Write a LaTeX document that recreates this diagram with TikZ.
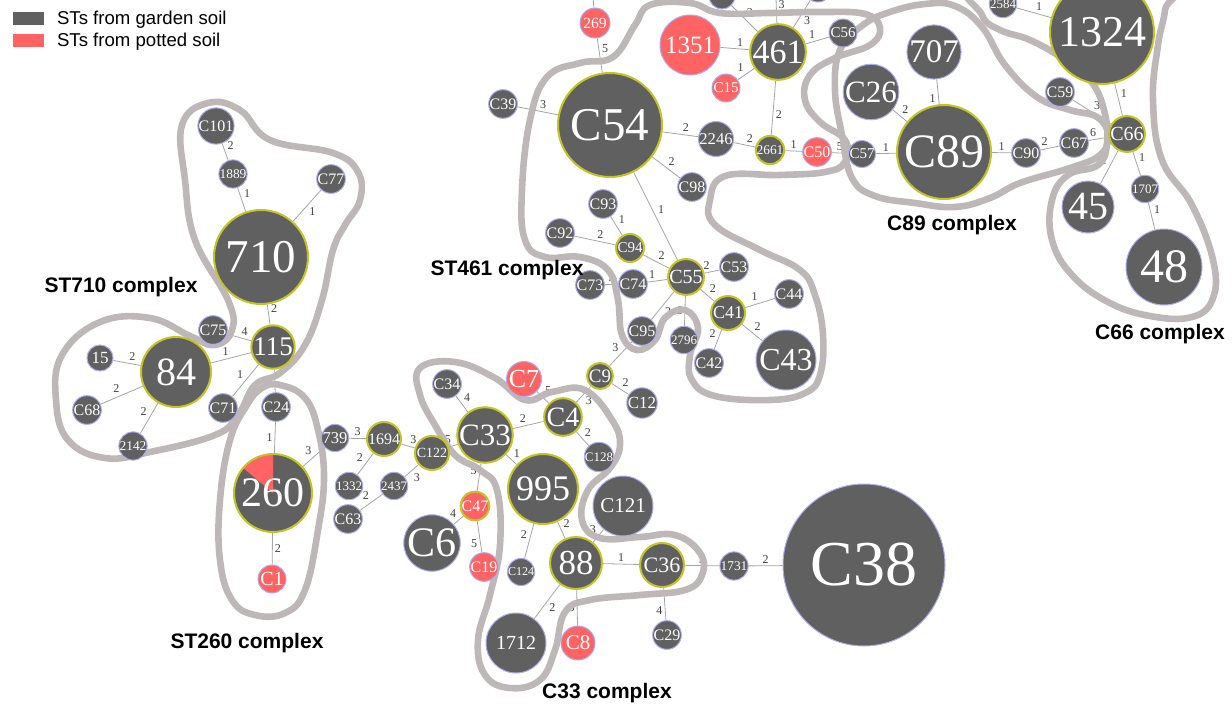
\documentclass[tikz,border=0pt]{standalone}
\usepackage{fontspec}
\setmainfont{Liberation Serif}
\setsansfont{Liberation Sans}
\usetikzlibrary{backgrounds}
\definecolor{gardengray}{RGB}{96,96,96}
\definecolor{pottedred}{RGB}{255,99,99}
\definecolor{rimyellow}{RGB}{196,196,40}
\definecolor{rimblue}{RGB}{172,172,238}
\definecolor{hullgray}{RGB}{189,184,183}
\definecolor{edgegray}{RGB}{165,165,165}
\begin{document}
\begin{tikzpicture}[x=.5pt,y=-.5pt,
  garden/.style={circle,inner sep=0pt,fill=gardengray,draw=rimblue,line width=0.5pt,text=white,minimum size=#1pt},
  potted/.style={garden=#1,fill=pottedred},
  founder/.style={draw=rimyellow,line width=1pt},
  fs/.style={font=\fontsize{#1}{#1}\selectfont},
  lnk/.style={draw=edgegray,line width=0.4pt},
  elab/.style={font=\fontsize{6}{6}\selectfont,text=black!75,inner sep=1pt,auto},
  hull/.style={draw=hullgray,line width=3.3pt},
  cplx/.style={font=\sffamily\bfseries\fontsize{10.5}{12}\selectfont},
  legkey/.style={inner sep=0pt,minimum width=15.5pt,minimum height=6.5pt},
  legtxt/.style={font=\sffamily\fontsize{9.3}{11}\selectfont,anchor=base west}]
\path[use as bounding box] (0,0) rectangle (1232,707);
% legend
\node[legkey,fill=gardengray] (keyG) at (28.5,18) {};
\node[legtxt] (txtG) at (50,24) {STs from garden soil};
\node[legkey,fill=pottedred] (keyP) at (28.5,40) {};
\node[legtxt] (txtP) at (50,46) {STs from potted soil};
% ST461 complex
\node[potted=15,fs=7.8] (n269) at (595,23) {269};
\node[potted=30,fs=12.5] (n1351) at (690,45) {1351};
\node[garden=27,founder,fs=17] (n461) at (778,52) {461};
\node[potted=14,fs=7.5] (nC15) at (726,88) {C15};
\node[garden=14,fs=7.5] (nC56) at (843,33) {C56};
\node[garden=13] (nTopA) at (722,-4) {};
\node[garden=13] (nTopB) at (775,-28) {};
\node[garden=14] (nTopC) at (818,-12) {};
\coordinate (top269) at (591,-30);
\node[garden=13,fs=8] (nC39) at (503,104) {C39};
\node[garden=52,founder,fs=23.5] (nC54) at (610,125) {C54};
\node[garden=17,fs=8.3] (n2246) at (716,139) {2246};
\node[garden=14,founder,fs=6.7] (n2661) at (770,150) {2661};
\node[potted=14,fs=8] (nC50) at (817,152) {C50};
\node[garden=13,fs=8] (nC98) at (692,187) {C98};
\node[garden=13,fs=8] (nC93) at (603,204) {C93};
\node[garden=13,fs=8] (nC92) at (560,233) {C92};
\node[garden=14,founder,fs=7.5] (nC94) at (630,248) {C94};
\node[garden=17,founder,fs=10] (nC55) at (686,277) {C55};
\node[garden=13,fs=8] (nC53) at (734,267) {C53};
\node[garden=13,fs=8] (nC74) at (633,284) {C74};
\node[garden=13,fs=8] (nC73) at (590,285) {C73};
\node[garden=17,founder,fs=9] (nC41) at (728,313) {C41};
\node[garden=13,fs=8] (nC44) at (789,294) {C44};
\node[garden=30,fs=16] (nC43) at (786,360) {C43};
\node[garden=13,fs=8] (nC95) at (642,331) {C95};
\node[garden=13,fs=6.5] (n2796) at (684,340) {2796};
\node[garden=13,fs=8] (nC42) at (709,363) {C42};
\node[garden=13,founder,fs=9.5] (nC9) at (600,376) {C9};
\node[garden=15,fs=8.5] (nC12) at (642,403) {C12};
\node[potted=17,fs=13] (nC7) at (524,379) {C7};
% C89 complex
\node[garden=13,fs=7.5] (nC57) at (862,154) {C57};
\node[garden=26,fs=15.5] (nC26) at (871,92) {C26};
\node[garden=27,fs=16.5] (n707) at (934,52) {707};
\node[garden=47,founder,fs=24] (nC89) at (944,152) {C89};
\node[garden=13,fs=8] (nC90) at (1026,153) {C90};
\node[garden=13,fs=8] (nC67) at (1074,143) {C67};
% C66 complex
\node[garden=13,fs=8] (nC59) at (1060,92) {C59};
\node[garden=52,founder,fs=22] (n1324) at (1102,32) {1324};
\node[garden=13,fs=6.5] (n2584) at (1003,4) {2584};
\node[garden=17,founder,fs=10] (nC66) at (1127,134) {C66};
\node[garden=13,fs=6.5] (n1707) at (1145,189) {1707};
\node[garden=26,fs=20] (n45) at (1088,207) {45};
\node[garden=38,fs=24] (n48) at (1164,267) {48};
% ST710 complex
\node[garden=13,fs=8] (nC101) at (216,126) {C101};
\node[garden=13,fs=6.7] (n1889) at (233,174) {1889};
\node[garden=13,fs=8] (nC77) at (331,179) {C77};
\node[garden=47,founder,fs=23.5] (n710) at (261,257) {710};
\node[garden=13,fs=8] (nC75) at (213,330) {C75};
\node[garden=21,founder,fs=13.5] (n115) at (273,347) {115};
\node[garden=35,founder,fs=20] (n84) at (176,372) {84};
\node[garden=13,fs=8.5] (n15) at (100,358) {15};
\node[garden=13,fs=8] (nC68) at (87,410) {C68};
\node[garden=13,fs=6.7] (n2142) at (133,446) {2142};
\node[garden=13,fs=8] (nC71) at (223,408) {C71};
% ST260 complex
\node[garden=14,fs=8] (nC24) at (276,407) {C24};
\fill[gardengray] (273,493) circle[radius=19.5pt];
\fill[pottedred] (273,493) -- ++(90:19.5pt) arc[start angle=90,end angle=140,radius=19.5pt] -- cycle;
\node[garden=39,founder,fs=21,fill=none] (n260) at (273,493) {260};
\node[potted=14,fs=10] (nC1) at (272,579) {C1};
\node[garden=13,fs=8.3] (n739) at (335,438) {739};
\node[garden=17,founder,fs=8] (n1694) at (384,439) {1694};
\node[garden=13,fs=6.5] (n1332) at (349,486) {1332};
\node[garden=13,fs=6.5] (n2437) at (394,486) {2437};
\node[garden=13,fs=8] (nC63) at (348,519) {C63};
\node[garden=17,founder,fs=7] (nC122) at (432,453) {C122};
% C33 complex
\node[garden=13,fs=8] (nC34) at (447,384) {C34};
\node[garden=26,founder,fs=15.5] (nC33) at (485,435) {C33};
\node[garden=18,founder,fs=14] (nC4) at (563,417) {C4};
\node[garden=13,fs=6.5] (nC128) at (599,457) {C128};
\node[potted=13,founder,fs=8] (nC47) at (475,506) {C47};
\node[garden=26,fs=21] (nC6) at (432,543) {C6};
\node[potted=13,fs=8] (nC19) at (484,567) {C19};
\node[garden=35,founder,fs=18] (n995) at (543,489) {995};
\node[garden=30,fs=10.5] (nC121) at (623,506) {C121};
\node[garden=13,fs=6] (nC124) at (521,572) {C124};
\node[garden=26,founder,fs=17.5] (n88) at (576,563) {88};
\node[garden=30,fs=10] (n1712) at (516,643) {1712};
\node[potted=17,fs=10.5] (nC8) at (578,643) {C8};
\node[garden=22,founder,fs=11] (nC36) at (662,565) {C36};
\node[garden=13,fs=8] (nC29) at (667,635) {C29};
\node[garden=13,fs=6.7] (n1731) at (734,566) {1731};
\node[garden=81,fs=32] (nC38) at (864,565) {C38};
% complex names
\node[cplx] (lab710) at (121,287) {ST710 complex};
\node[cplx] (lab461) at (507,270) {ST461 complex};
\node[cplx] (lab89) at (952,225) {C89 complex};
\node[cplx] (lab66) at (1160,334) {C66 complex};
\node[cplx] (lab260) at (247,643) {ST260 complex};
\node[cplx] (lab33) at (607,693) {C33 complex};
\begin{pgfonlayer}{background}
% links
\draw[lnk] (n269) -- (top269);
\draw[lnk] (n269) -- node[elab]{5} (nC54);
\draw[lnk] (nTopA) -- node[elab]{3} (n461);
\draw[lnk] (nTopB) -- node[elab]{3} (n461);
\draw[lnk] (nTopC) -- node[elab]{3} (n461);
\draw[lnk] (n1351) -- node[elab]{1} (n461);
\draw[lnk] (nC15) -- node[elab]{1} (n461);
\draw[lnk] (n461) -- node[elab]{1} (nC56);
\draw[lnk] (n461) -- node[elab]{2} (n2661);
\draw[lnk] (nC39) -- node[elab]{3} (nC54);
\draw[lnk] (nC54) -- node[elab]{2} (n2246);
\draw[lnk] (n2246) -- node[elab]{2} (n2661);
\draw[lnk] (n2661) -- node[elab]{1} (nC50);
\draw[lnk] (nC50) -- node[elab]{5} (nC57);
\draw[lnk] (nC54) -- node[elab]{2} (nC98);
\draw[lnk] (nC54) -- node[elab]{1} (nC55);
\draw[lnk] (nC57) -- node[elab]{1} (nC89);
\draw[lnk] (nC26) -- node[elab]{2} (nC89);
\draw[lnk] (n707) -- node[elab,swap]{1} (nC89);
\draw[lnk] (nC89) -- node[elab]{1} (nC90);
\draw[lnk] (nC90) -- node[elab]{2} (nC67);
\draw[lnk] (nC67) -- node[elab]{6} (nC66);
\draw[lnk] (nC59) -- node[elab]{3} (nC66);
\draw[lnk] (n1324) -- node[elab]{1} (nC66);
\draw[lnk] (n2584) -- node[elab]{1} (n1324);
\draw[lnk] (nC66) -- node[elab,swap]{1} (n45);
\draw[lnk] (nC66) -- node[elab]{1} (n1707);
\draw[lnk] (n1707) -- node[elab]{1} (n48);
\draw[lnk] (nC93) -- node[elab]{1} (nC94);
\draw[lnk] (nC92) -- node[elab]{2} (nC94);
\draw[lnk] (nC94) -- node[elab]{2} (nC55);
\draw[lnk] (nC73) -- node[elab]{3} (nC74);
\draw[lnk] (nC74) -- node[elab]{1} (nC55);
\draw[lnk] (nC55) -- node[elab]{2} (nC53);
\draw[lnk] (nC55) -- node[elab]{2} (nC41);
\draw[lnk] (nC55) -- node[elab]{2} (nC95);
\draw[lnk] (nC55) -- node[elab,swap]{6} (n2796);
\draw[lnk] (nC41) -- node[elab]{1} (nC44);
\draw[lnk] (nC41) -- node[elab]{2} (nC43);
\draw[lnk] (nC41) -- node[elab,swap]{2} (nC42);
\draw[lnk] (nC95) -- node[elab,swap]{3} (nC9);
\draw[lnk] (nC9) -- node[elab]{2} (nC12);
\draw[lnk] (nC9) -- node[elab]{3} (nC4);
\draw[lnk] (nC7) -- node[elab]{5} (nC4);
\draw[lnk] (nC101) -- node[elab]{2} (n1889);
\draw[lnk] (n1889) -- node[elab]{1} (n710);
\draw[lnk] (nC77) -- node[elab]{1} (n710);
\draw[lnk] (n710) -- node[elab]{2} (n115);
\draw[lnk] (nC75) -- node[elab]{4} (n115);
\draw[lnk] (n84) -- node[elab]{1} (n115);
\draw[lnk] (nC71) -- node[elab]{1} (n115);
\draw[lnk] (n15) -- node[elab]{2} (n84);
\draw[lnk] (nC68) -- node[elab]{2} (n84);
\draw[lnk] (n2142) -- node[elab]{2} (n84);
\draw[lnk] (n115) -- node[elab,swap]{5} (nC24);
\draw[lnk] (nC24) -- node[elab,swap]{1} (n260);
\draw[lnk] (n260) -- node[elab]{3} (n739);
\draw[lnk] (n260) -- node[elab]{2} (nC1);
\draw[lnk] (n739) -- node[elab]{3} (n1694);
\draw[lnk] (n1694) -- node[elab,swap]{2} (n1332);
\draw[lnk] (n1694) -- node[elab]{3} (nC122);
\draw[lnk] (nC122) -- node[elab]{3} (n2437);
\draw[lnk] (n2437) -- node[elab,swap]{2} (nC63);
\draw[lnk] (nC122) -- node[elab]{5} (nC33);
\draw[lnk] (nC34) -- node[elab]{4} (nC33);
\draw[lnk] (nC33) -- node[elab]{2} (nC4);
\draw[lnk] (nC33) -- node[elab]{1} (n995);
\draw[lnk] (nC33) -- node[elab,swap]{5} (nC47);
\draw[lnk] (nC47) -- node[elab,swap]{4} (nC6);
\draw[lnk] (nC47) -- node[elab,swap]{5} (nC19);
\draw[lnk] (nC4) -- node[elab]{2} (nC128);
\draw[lnk] (n995) -- node[elab]{2} (n88);
\draw[lnk] (n995) -- node[elab,swap]{2} (nC124);
\draw[lnk] (n88) -- node[elab]{3} (nC121);
\draw[lnk] (n88) -- node[elab]{1} (nC36);
\draw[lnk] (n88) -- node[elab]{2} (n1712);
\draw[lnk] (n88) -- node[elab,swap]{3} (nC8);
\draw[lnk] (nC36) -- node[elab]{3} (n1731);
\draw[lnk] (nC36) -- node[elab,swap]{4} (nC29);
\draw[lnk] (n1731) -- node[elab]{2} (nC38);
% complex outlines
\draw[hull] plot[smooth cycle,tension=0.7] coordinates {(208,103) (240,110) (270,140) (333,153) (358,172) (360,200) (345,225) (333,250) (322,300) (305,345) (280,373) (255,385) (238,415) (215,435) (150,452) (105,458) (68,440) (56,400) (62,355) (100,322) (150,318) (190,336) (215,345) (232,330) (228,300) (195,240) (185,180) (182,125)};
\draw[hull] plot[smooth cycle,tension=0.7] coordinates {(280,385) (305,398) (318,430) (324,477) (318,530) (305,590) (285,613) (255,615) (232,600) (220,560) (220,500) (230,440) (247,405) (262,388)};
\draw[hull] plot[smooth cycle,tension=0.7] coordinates {(420,368) (455,362) (495,378) (525,400) (552,392) (585,390) (612,420) (620,445) (610,468) (588,490) (582,520) (600,538) (640,537) (675,535) (700,553) (702,575) (685,590) (640,595) (590,600) (565,612) (555,650) (540,680) (510,688) (485,675) (478,640) (490,595) (500,545) (497,490) (480,470) (455,455) (435,425) (420,395)};
\draw[hull] plot[smooth cycle,tension=0.7] coordinates {(547,77) (580,63) (613,57) (635,25) (650,5) (690,3) (720,13) (770,13) (820,12) (865,14) (880,28) (870,45) (835,58) (810,75) (805,100) (820,122) (845,140) (845,162) (825,172) (780,175) (725,176) (710,200) (715,225) (760,250) (800,270) (815,295) (823,335) (820,375) (805,393) (770,400) (715,396) (692,380) (690,355) (698,328) (685,310) (665,318) (655,340) (637,350) (622,335) (618,300) (608,270) (580,257) (545,257) (525,240) (522,190) (530,120)};
\draw[hull] plot[smooth cycle,tension=0.7] coordinates {(840,50) (863,25) (890,12) (925,4) (955,6) (982,27) (1005,65) (1037,97) (1070,110) (1097,117) (1108,135) (1100,155) (1070,168) (1020,183) (990,198) (955,207) (915,203) (875,196) (852,178) (842,135) (835,90)};
\draw[hull] plot[smooth cycle,tension=0.7] coordinates {(980,-20) (982,15) (1000,30) (1030,40) (1062,58) (1090,80) (1104,110) (1107,143) (1098,165) (1068,175) (1052,200) (1052,240) (1072,275) (1108,302) (1150,316) (1192,317) (1213,298) (1213,260) (1192,205) (1162,160) (1153,100) (1158,45) (1165,10) (1165,-20)};
\end{pgfonlayer}
\end{tikzpicture}
\end{document}
